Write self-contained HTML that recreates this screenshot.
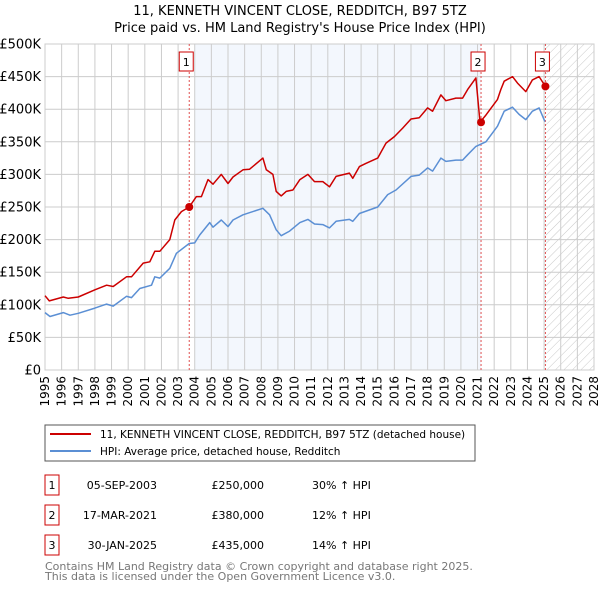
<!DOCTYPE html>
<html><head><meta charset="utf-8"><style>
body{margin:0;background:#fff;width:600px;height:590px;overflow:hidden;font-family:"DejaVu Sans","Liberation Sans",sans-serif}
svg text{font-family:"DejaVu Sans","Liberation Sans",sans-serif}
</style></head><body>
<svg id="chart" width="600" height="590" viewBox="0 0 600 590">
<defs>
<pattern id="hatch" patternUnits="userSpaceOnUse" width="6" height="6" patternTransform="rotate(45)">
<line x1="0" y1="0" x2="0" y2="6" stroke="#bbb" stroke-width="0.8"/></pattern>
</defs>
<text x="300" y="15" text-anchor="middle" font-size="13">11, KENNETH VINCENT CLOSE, REDDITCH, B97 5TZ</text>
<text x="300" y="32" text-anchor="middle" font-size="13">Price paid vs. HM Land Registry's House Price Index (HPI)</text>
<g id="plot"></g>
<rect x="45" y="425" width="430" height="36" fill="#fff" stroke="#555"/>
<line x1="50" y1="434" x2="91" y2="434" stroke="#cc0000" stroke-width="2"/>
<text x="100" y="438" font-size="10.5">11, KENNETH VINCENT CLOSE, REDDITCH, B97 5TZ (detached house)</text>
<line x1="50" y1="451" x2="91" y2="451" stroke="#5b8fd4" stroke-width="2"/>
<text x="100" y="455" font-size="10.5">HPI: Average price, detached house, Redditch</text>
<g id="table" font-size="11"></g>
<text x="45" y="570" font-size="11" fill="#777">Contains HM Land Registry data © Crown copyright and database right 2025.</text>
<text x="45" y="580" font-size="11" fill="#777">This data is licensed under the Open Government Licence v3.0.</text>
</svg>
<script>
const propYears=[1995,1995.26,1996.1,1996.4,1997,1998,1998.7,1999.1,1999.9,2000.2,2000.9,2001.3,2001.6,2001.9,2002.5,2002.8,2003.2,2003.67,2004.1,2004.4,2004.8,2005.1,2005.6,2006,2006.3,2006.9,2007.3,2008.1,2008.3,2008.7,2008.9,2009.2,2009.5,2009.9,2010.32,2010.8,2011.2,2011.7,2012.1,2012.5,2013.3,2013.5,2013.9,2014.3,2015,2015.5,2016,2016.5,2017,2017.5,2018,2018.3,2018.8,2019.1,2019.7,2020.1,2020.4,2020.9,2021.15,2021.5,2022.2,2022.4,2022.6,2023.1,2023.4,2023.9,2024.3,2024.7,2025.08];
const propValues=[114,106,112,110,112,123,130,128,143,143,164,166,182,182,200,230,243,250,266,266,292,285,300,286,296,307,308,325,307,300,274,267,274,276,292,300,289,289,281,297,302,294,312,317,325,348,358,371,385,387,402,397,422,413,417,417,430,448,380,391,415,430,443,450,440,427,445,450,435];
const hpiYears=[1995,1995.3,1996.1,1996.5,1997,1998,1998.7,1999.1,1999.9,2000.2,2000.7,2001.4,2001.6,2001.9,2002.5,2002.9,2003.67,2004,2004.3,2004.9,2005.1,2005.6,2006,2006.3,2006.9,2008.1,2008.5,2008.9,2009.2,2009.7,2010.32,2010.8,2011.2,2011.7,2012.1,2012.5,2013.3,2013.5,2013.9,2015,2015.6,2016.1,2017,2017.5,2018,2018.3,2018.8,2019.1,2019.7,2020.1,2020.4,2020.9,2021.5,2022.2,2022.6,2023.1,2023.5,2023.9,2024.3,2024.7,2025.05];
const hpiValues=[88,82,88,84,87,95,101,98,113,111,125,130,143,141,156,179,194,195,207,226,219,230,220,230,238,248,238,215,206,213,226,231,224,223,218,228,231,228,240,250,269,276,297,299,310,305,325,320,322,322,330,343,350,374,397,403,392,384,397,402,381];
const saleYears=[2003.67,2021.21,2025.08];
const saleValues=[250,380,435];
const saleDates=["05-SEP-2003","17-MAR-2021","30-JAN-2025"];
const salePrices=["£250,000","£380,000","£435,000"];
const saleHpi=["30% ↑ HPI","12% ↑ HPI","14% ↑ HPI"];
const yTicks=[0,50,100,150,200,250,300,350,400,450,500];
const yLabels=["£0","£50K","£100K","£150K","£200K","£250K","£300K","£350K","£400K","£450K","£500K"];
const xTicks=[];for(let y=1995;y<=2028;y++)xTicks.push(y);

const X0=45,X1=594,Y0=370,Y1=44,YR0=1995,YR1=2028,VMAX=500;
const sx=y=>X0+(y-YR0)/(YR1-YR0)*(X1-X0);
const sy=v=>Y0-v/VMAX*(Y0-Y1);
const NS="http://www.w3.org/2000/svg";
const plot=document.getElementById('plot');
function mk(tag,attrs,parent){const e=document.createElementNS(NS,tag);for(const k in attrs)e.setAttribute(k,attrs[k]);(parent||plot).appendChild(e);return e;}

let r=mk('rect',{x:sx(2004),y:Y1,width:sx(saleYears[1])-sx(2004),height:Y0-Y1,fill:'#eef3fc',opacity:0.7});


r=mk('rect',{x:sx(saleYears[2]),y:Y1,width:X1-sx(saleYears[2]),height:Y0-Y1,fill:'url(#hatch)'});



xTicks.forEach(t=>{
 const l=mk('line',{x1:sx(t),x2:sx(t),y1:Y1,y2:Y0,stroke:'#cccccc','stroke-width':1});
 
 
 const tx=mk('text',{x:0,y:0,'font-size':12,'text-anchor':'end',transform:`translate(${sx(t)+4},${Y0+6}) rotate(-90)`});
 tx.textContent=t;
 
 
});
yTicks.forEach((t,i)=>{
 const l=mk('line',{x1:X0,x2:X1,y1:sy(t),y2:sy(t),stroke:'#cccccc','stroke-width':1});
 
 
 const tx=mk('text',{x:X0-4,y:sy(t)+4.5,'font-size':13,'text-anchor':'end'});
 tx.textContent=yLabels[i];
 
 
});
r=mk('rect',{x:X0,y:Y1,width:X1-X0,height:Y0-Y1,fill:'none',stroke:'#cccccc'});



saleYears.forEach((y,i)=>{
 const l=mk('line',{x1:sx(y),x2:sx(y),y1:Y1,y2:Y0,stroke:'#e05050','stroke-width':1,'stroke-dasharray':'2,2'});
 
 
});
function path(xs,vs,color,name){
 const d=xs.map((x,i)=>(i?'L':'M')+sx(x).toFixed(1)+','+sy(vs[i]).toFixed(1)).join('');
 const p=mk('path',{d:d,fill:'none',stroke:color,'stroke-width':1.5,'stroke-linejoin':'round'});
 
 
}
path(hpiYears,hpiValues,'#5b8fd4','hpi-line');
path(propYears,propValues,'#cc0000','property-price-line');
saleYears.forEach((y,i)=>{
 const c=mk('circle',{cx:sx(y),cy:sy(saleValues[i]),r:4,fill:'#cc0000'});
 
 
 const g=mk('rect',{x:sx(y)-10,y:52,width:14,height:19,fill:'#fff',stroke:'#cc0000'});
 
 
 const t=mk('text',{x:sx(y)-3,y:66,'font-size':11,'text-anchor':'middle'});
 t.textContent=String(i+1);
 
 
});

const tb=document.getElementById('table');
saleDates.forEach((d,i)=>{
 const y=485+i*30;
 const b=mk('rect',{x:45,y:y-10,width:14,height:20,fill:'#fff',stroke:'#cc0000'},tb);
 
 
 const n=mk('text',{x:52,y:y+4,'text-anchor':'middle'},tb);n.textContent=String(i+1);
 
 
 const a=mk('text',{x:157,y:y+4,'text-anchor':'end'},tb);a.textContent=d;
 
 
 const p=mk('text',{x:264,y:y+4,'text-anchor':'end'},tb);p.textContent=salePrices[i];
 
 
 const h=mk('text',{x:312,y:y+4},tb);h.textContent=saleHpi[i];
 
 
});
</script>
</body></html>
